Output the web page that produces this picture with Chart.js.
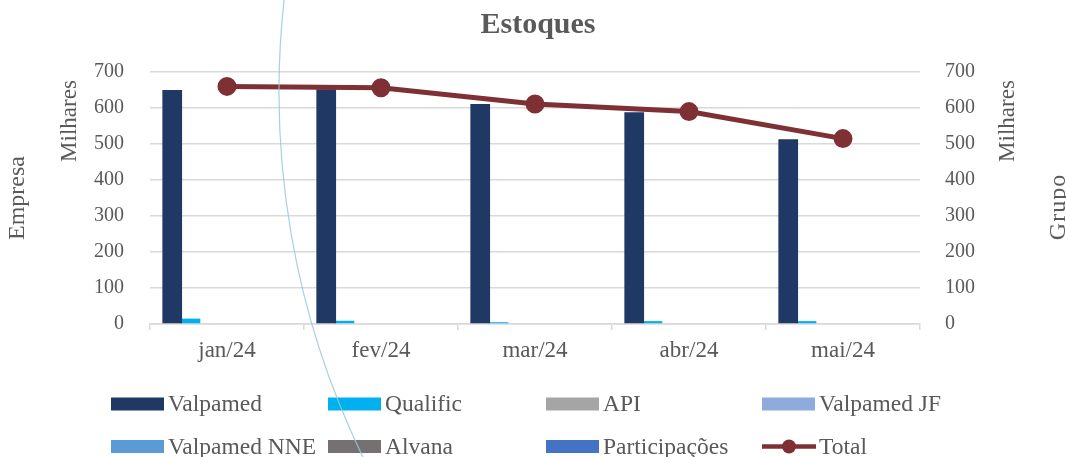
<!DOCTYPE html>
<html>
<head>
<meta charset="utf-8">
<script src="https://cdn.jsdelivr.net/npm/chart.js@4"></script>
<style>
  body { margin: 0; background: #fff; }
  #wrap { width: 1066px; height: 457px; position: relative; }
</style>
</head>
<body>
<div id="wrap"><canvas id="estoques-chart" width="1066" height="457"></canvas></div>
<script>
// dados (milhares)
var months = ["jan/24", "fev/24", "mar/24", "abr/24", "mai/24"];
var valpamed = [650, 652, 611, 588, 513];
var qualific = [15, 9, 5, 8, 8];
var api = [0, 0, 0, 0, 0];
var valpamedJF = [0, 0, 0, 0, 0];
var valpamedNNE = [0, 0, 0, 0, 0];
var alvana = [0, 0, 0, 0, 0];
var participacoes = [0, 0, 0, 0, 0];
var total = [660, 656, 611, 590, 515];
var yTicks = [0, 100, 200, 300, 400, 500, 600, 700];

var FONT = "'Liberation Serif', 'DejaVu Serif', serif";
var GREY = "#595959";
var GRID = "#d9d9d9";

function bar(label, data, color) {
  return {
    type: "bar",
    label: label,
    data: data,
    backgroundColor: color,
    yAxisID: "y",
    categoryPercentage: 0.83,
    barPercentage: 1.08,
    order: 2,
  };
}

// titulo, titulos dos eixos, legenda em grelha e o arco azul
var extras = {
  id: "extras",
  afterDraw: function (chart) {
    var c = chart.ctx;
    c.save();
    c.fillStyle = GREY;
    c.textAlign = "center";
    c.textBaseline = "middle";
    c.font = "bold 30px " + FONT;
    c.fillText("Estoques", 538, 25);

    function vtext(t, x, y, size, spacing) {
      c.save();
      c.font = size + "px " + FONT;
      c.letterSpacing = (spacing || 0) + "px";
      c.translate(x, y);
      c.rotate(-Math.PI / 2);
      c.fillText(t, 0, 0);
      c.restore();
    }
    vtext("Milhares", 70, 121, 23);
    vtext("Empresa", 18, 198, 24);
    vtext("Milhares", 1008, 121, 23);
    vtext("Grupo", 1059, 207, 24, 1);

    // legenda
    var cols = [111, 328, 546, 762];
    var rows = [404, 446.5];
    c.textAlign = "left";
    c.font = "23.5px " + FONT;
    chart.data.datasets.forEach(function (ds, i) {
      var x = cols[i % 4];
      var y = rows[Math.floor(i / 4)];
      if (ds.type === "line") {
        c.strokeStyle = ds.borderColor;
        c.lineWidth = 4.5;
        c.beginPath();
        c.moveTo(x, y);
        c.lineTo(x + 54, y);
        c.stroke();
        c.fillStyle = ds.borderColor;
        c.beginPath();
        c.arc(x + 27, y, 7, 0, Math.PI * 2);
        c.fill();
      } else {
        c.fillStyle = ds.backgroundColor;
        c.fillRect(x, y - 6.5, 53, 13);
      }
      c.fillStyle = GREY;
      c.fillText(ds.label, x + 57, y + 1);
    });

    // arco
    c.strokeStyle = "rgba(150, 200, 225, 0.85)";
    c.lineWidth = 1.2;
    c.beginPath();
    c.arc(1115, 92, 836, Math.PI + 0.12, Math.PI - 0.46, true);
    c.stroke();
    c.restore();
  },
};

var ctx = document.getElementById("estoques-chart").getContext("2d");
var chart = new Chart(ctx, {
  data: {
    labels: months,
    datasets: [
      bar("Valpamed", valpamed, "#203864"),
      bar("Qualific", qualific, "#00b0f0"),
      bar("API", api, "#a5a5a5"),
      bar("Valpamed JF", valpamedJF, "#8faadc"),
      bar("Valpamed NNE", valpamedNNE, "#5b9bd5"),
      bar("Alvana", alvana, "#767171"),
      bar("Participações", participacoes, "#4472c4"),
      {
        type: "line",
        label: "Total",
        data: total,
        yAxisID: "y1",
        borderColor: "#7f3034",
        backgroundColor: "#7f3034",
        borderWidth: 5,
        pointRadius: 7,
        pointHoverRadius: 7,
        tension: 0,
        order: 1,
      },
    ],
  },
  options: {
    responsive: false,
    animation: false,
    devicePixelRatio: 1,
    layout: { padding: { top: 72, bottom: 93, left: 0, right: 0 } },
    plugins: {
      legend: { display: false },
      title: { display: false },
      tooltip: { enabled: false },
    },
    scales: {
      x: {
        grid: { drawOnChartArea: false, color: GRID, lineWidth: 1.5, tickLength: 6 },
        border: { color: GRID, width: 1.5 },
        ticks: { color: GREY, font: { family: FONT, size: 23 }, padding: 7, maxRotation: 0 },
        afterFit: function (s) { s.height = 40; },
      },
      y: {
        position: "left",
        min: 0,
        max: 700,
        afterBuildTicks: function (s) { s.ticks = yTicks.map(function (v) { return { value: v }; }); },
        grid: { color: GRID, lineWidth: 1.5, drawTicks: false },
        border: { display: false },
        ticks: { color: GREY, font: { family: FONT, size: 20 }, padding: 26 },
        afterFit: function (s) { s.width = 150; },
      },
      y1: {
        position: "right",
        min: 0,
        max: 700,
        afterBuildTicks: function (s) { s.ticks = yTicks.map(function (v) { return { value: v }; }); },
        grid: { drawOnChartArea: false, drawTicks: false },
        border: { display: false },
        ticks: { color: GREY, font: { family: FONT, size: 20 }, padding: 25 },
        afterFit: function (s) { s.width = 146; },
      },
    },
  },
  plugins: [extras],
});
</script>
</body>
</html>
